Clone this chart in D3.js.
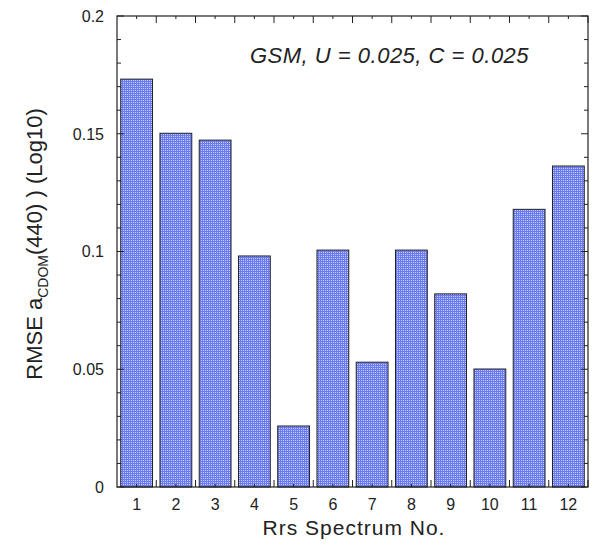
<!DOCTYPE html>
<html>
<head>
<meta charset="utf-8">
<script src="https://cdn.jsdelivr.net/npm/d3@7"></script>
<style>
  body { margin: 0; background: #fff; }
  svg { display: block; font-family: "Liberation Sans", Arial, sans-serif; }
</style>
</head>
<body>
<svg id="chart" width="599" height="546"></svg>
<script>
// spectrum numbers and RMSE values
const spectra = [1, 2, 3, 4, 5, 6, 7, 8, 9, 10, 11, 12];
const rmse = [0.1732, 0.1502, 0.1473, 0.0981, 0.0259, 0.1006, 0.0530, 0.1006, 0.0820, 0.0501, 0.1179, 0.1363];
const yTicks = [0, 0.05, 0.1, 0.15, 0.2];
const yTickLabels = ['0', '0.05', '0.1', '0.15', '0.2'];

const svg = d3.select('#chart');
const margin = { left: 117, top: 16, right: 11, bottom: 59 };
const W = 599 - margin.left - margin.right;
const H = 546 - margin.top - margin.bottom;

const g = svg.append('g').attr('transform', `translate(${margin.left},${margin.top})`);

// dotted blue fill like the original
const defs = svg.append('defs');
const pat = defs.append('pattern')
  .attr('id', 'dots')
  .attr('width', 2).attr('height', 2)
  .attr('patternUnits', 'userSpaceOnUse');
pat.append('rect').attr('width', 2).attr('height', 2).attr('fill', '#6a7bf2');
pat.append('rect').attr('width', 1).attr('height', 1).attr('fill', '#c4ccff');

const x = d3.scaleBand().domain(spectra).range([0, W]).paddingInner(0.19).paddingOuter(0.095);
const xLin = d3.scaleLinear().domain([0.5, 12.5]).range([0, W]);
const y = d3.scaleLinear().domain([0, 0.2]).range([H, 0]);

// bars
g.selectAll('rect.bar')
  .data(rmse)
  .join('rect')
  .attr('class', 'bar')
  .attr('x', (d, i) => x(spectra[i]))
  .attr('y', d => y(d))
  .attr('width', x.bandwidth())
  .attr('height', d => H - y(d))
  .attr('fill', 'url(#dots)')
  .attr('stroke', '#222')
  .attr('stroke-width', 1);

// ticks (all inside the frame)
const ticks = g.append('g').attr('stroke', '#222').attr('stroke-width', 1);
const minor = d3.range(0, 0.2001, 0.01);
minor.forEach(v => {
  const major = Math.abs(Math.round(v / 0.05) * 0.05 - v) < 1e-6;
  const len = major ? 7 : 4;
  ticks.append('line').attr('x1', 0).attr('x2', len).attr('y1', y(v)).attr('y2', y(v));
  ticks.append('line').attr('x1', W).attr('x2', W - len).attr('y1', y(v)).attr('y2', y(v));
});
const halfSteps = d3.range(1, 12.6, 0.5);
halfSteps.forEach(v => {
  const boundary = v % 1 !== 0;
  const len = boundary ? 7 : 3;
  ticks.append('line').attr('x1', xLin(v)).attr('x2', xLin(v)).attr('y1', H).attr('y2', H - len);
  ticks.append('line').attr('x1', xLin(v)).attr('x2', xLin(v)).attr('y1', 0).attr('y2', len);
});

// frame
g.append('rect')
  .attr('width', W).attr('height', H)
  .attr('fill', 'none')
  .attr('stroke', '#222')
  .attr('stroke-width', 1.2);

// y tick labels
g.selectAll('text.ylab')
  .data(yTicks)
  .join('text')
  .attr('class', 'ylab')
  .attr('x', -13)
  .attr('y', d => y(d))
  .attr('dy', '0.36em')
  .attr('text-anchor', 'end')
  .attr('font-size', 16)
  .attr('fill', '#222')
  .text((d, i) => yTickLabels[i]);

// x tick labels
g.selectAll('text.xlab')
  .data(spectra)
  .join('text')
  .attr('class', 'xlab')
  .attr('x', d => xLin(d))
  .attr('y', H + 23)
  .attr('text-anchor', 'middle')
  .attr('font-size', 16)
  .attr('fill', '#222')
  .text(d => d);

// axis titles
svg.append('text')
  .attr('x', 354)
  .attr('y', 535)
  .attr('text-anchor', 'middle')
  .attr('font-size', 21)
  .attr('letter-spacing', 1)
  .attr('fill', '#222')
  .text('Rrs Spectrum No.');

const yTitle = svg.append('text')
  .attr('transform', 'translate(42,244) rotate(-90)')
  .attr('text-anchor', 'middle')
  .attr('font-size', 22)
  .attr('fill', '#222');
yTitle.append('tspan').text('RMSE a');
yTitle.append('tspan').attr('font-size', 14).attr('dy', 6).text('CDOM');
yTitle.append('tspan').attr('dy', -6).text('(440) ) (Log10)');

// annotation
g.append('text')
  .attr('x', 133)
  .attr('y', 47)
  .attr('font-size', 22)
  .attr('letter-spacing', 0.5)
  .attr('font-style', 'italic')
  .attr('fill', '#222')
  .text('GSM, U = 0.025, C = 0.025');
</script>
</body>
</html>
